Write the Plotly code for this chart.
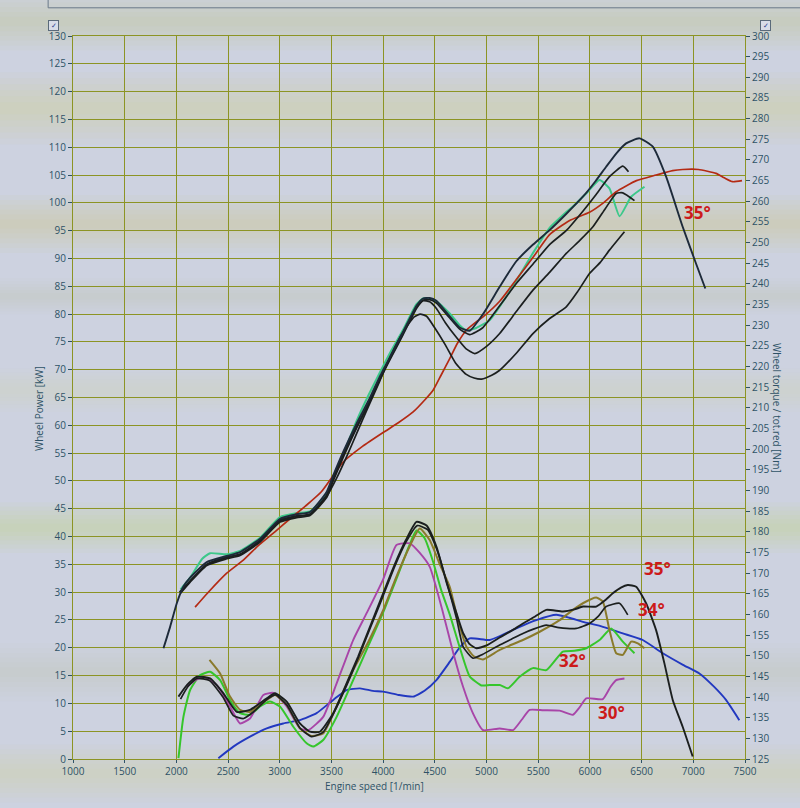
import plotly.graph_objects as go

# ---------------- data ----------------
# Wheel power curves [kW] (left axis)
p35_rpm = [1875, 1940, 2004, 2068, 2133, 2294, 2487, 2616, 2809, 3002, 3163, 3292, 3453, 3517, 3620, 3743, 3860, 3968, 4080, 4193, 4322, 4386, 4450, 4515, 4644, 4740, 4837, 4966, 5130, 5288, 5450, 5610, 5770, 5932, 6050, 6157, 6260, 6350, 6479, 6608, 6737, 6897, 7026, 7116]
p35_kw = [19.9, 23.8, 28.0, 31.0, 32.6, 35.4, 36.5, 37.2, 39.6, 43.2, 44.0, 44.4, 48.0, 51.0, 55.5, 60.3, 64.5, 68.8, 72.8, 76.8, 81.5, 82.8, 82.9, 82.4, 79.6, 77.6, 77.0, 80.0, 85.0, 89.5, 92.5, 95.1, 98.0, 101.1, 103.8, 106.5, 109.0, 110.7, 111.6, 110.1, 104.7, 95.7, 89.1, 84.6]

p34_rpm = [2030, 2133, 2294, 2487, 2616, 2809, 3002, 3163, 3292, 3453, 3517, 3620, 3743, 3860, 3968, 4080, 4193, 4322, 4386, 4450, 4515, 4644, 4740, 4837, 4960, 5127, 5288, 5450, 5610, 5770, 5932, 6060, 6189, 6318, 6373]
p34_kw = [30.0, 32.0, 35.0, 36.2, 36.8, 39.2, 42.8, 43.6, 44.0, 47.5, 50.5, 55.0, 59.8, 64.0, 68.4, 72.5, 76.5, 81.2, 82.5, 82.6, 82.0, 79.3, 77.3, 76.3, 77.5, 81.5, 85.5, 89.0, 92.5, 95.0, 98.5, 101.5, 104.7, 106.6, 105.6]

pol_rpm = [2040, 2133, 2250, 2326, 2487, 2616, 2809, 3002, 3163, 3292, 3453, 3517, 3620, 3743, 3860, 3968, 4080, 4193, 4322, 4386, 4450, 4515, 4644, 4740, 4805, 4900, 5030, 5150, 5288, 5450, 5610, 5740, 5868, 5980, 6093, 6189, 6287, 6399, 6528]
pol_kw = [30.5, 32.6, 36.0, 37.0, 36.8, 37.4, 39.8, 43.5, 44.2, 44.5, 47.6, 50.5, 55.0, 60.8, 65.5, 69.5, 73.5, 77.2, 81.8, 82.8, 82.8, 82.3, 80.1, 78.0, 77.1, 77.5, 78.9, 82.0, 86.0, 91.0, 95.5, 97.8, 99.9, 102.0, 104.1, 102.6, 97.6, 101.1, 102.9]

p32_rpm = [2040, 2133, 2294, 2487, 2616, 2809, 3002, 3163, 3292, 3453, 3517, 3620, 3743, 3860, 3968, 4080, 4193, 4322, 4386, 4450, 4515, 4600, 4700, 4800, 4886, 5000, 5127, 5290, 5449, 5610, 5771, 5900, 6029, 6150, 6254, 6318, 6431]
p32_kw = [29.8, 31.8, 34.8, 36.0, 36.6, 39.0, 42.6, 43.4, 43.8, 47.0, 50.0, 54.5, 59.5, 63.8, 68.2, 72.3, 76.3, 81.0, 82.4, 82.2, 81.0, 78.5, 76.0, 73.8, 72.9, 74.2, 76.5, 80.5, 84.3, 87.5, 90.9, 93.2, 95.7, 99.0, 101.7, 101.8, 100.4]

p30_rpm = [2050, 2133, 2294, 2487, 2616, 2809, 3002, 3163, 3292, 3453, 3550, 3650, 3743, 3860, 3968, 4080, 4193, 4300, 4360, 4420, 4500, 4600, 4700, 4800, 4880, 4953, 5050, 5127, 5290, 5449, 5610, 5771, 5880, 5996, 6100, 6189, 6334]
p30_kw = [30.2, 32.0, 35.0, 36.3, 36.8, 39.3, 43.0, 43.7, 44.0, 47.2, 50.5, 54.5, 58.5, 63.5, 68.0, 72.8, 76.8, 79.5, 80.0, 79.6, 77.5, 74.5, 71.2, 69.2, 68.5, 68.3, 69.0, 69.9, 73.0, 76.5, 79.2, 81.3, 84.0, 87.3, 89.3, 91.5, 94.8]

pred_rpm = [2181, 2300, 2487, 2650, 2800, 2950, 3100, 3250, 3400, 3614, 3800, 4000, 4150, 4290, 4400, 4483, 4560, 4644, 4720, 4805, 4900, 4966, 5127, 5288, 5450, 5610, 5800, 5996, 6130, 6254, 6450, 6640, 6800, 6897, 7050, 7219, 7300, 7380, 7471]
pred_kw = [27.3, 29.8, 33.4, 35.8, 38.5, 40.8, 43.2, 45.5, 48.0, 53.4, 56.2, 58.7, 60.5, 62.4, 64.5, 66.3, 69.0, 72.0, 74.8, 77.1, 78.6, 79.5, 82.3, 86.2, 90.2, 94.3, 96.8, 98.3, 100.0, 102.0, 104.0, 105.0, 105.8, 106.0, 106.0, 105.3, 104.5, 103.8, 104.0]

# Wheel torque curves [Nm] (right axis)
t35_rpm = [2020, 2101, 2198, 2326, 2455, 2584, 2712, 2874, 2954, 3067, 3195, 3292, 3388, 3517, 3646, 3758, 3880, 4000, 4110, 4220, 4322, 4420, 4515, 4610, 4709, 4773, 4837, 4901, 5000, 5127, 5240, 5352, 5470, 5578, 5738, 5850, 5932, 6061, 6150, 6221, 6300, 6366, 6447, 6543, 6640, 6720, 6801, 6897, 6994]
t35_nm = [140.1, 142.9, 144.9, 144.5, 140.9, 136.4, 136.9, 139.7, 140.9, 138.9, 133.6, 131.6, 131.6, 136.1, 143.3, 149.8, 157.5, 165.1, 172.0, 178.0, 182.4, 181.5, 176.4, 168.0, 160.3, 155.5, 152.8, 151.8, 152.5, 154.4, 156.0, 157.8, 159.5, 161.1, 160.7, 161.2, 161.9, 161.9, 163.5, 165.1, 166.5, 167.1, 166.7, 162.7, 156.2, 148.2, 139.3, 132.8, 125.6]

t34_rpm = [2040, 2110, 2200, 2320, 2450, 2551, 2650, 2750, 2880, 2960, 3070, 3195, 3308, 3420, 3530, 3650, 3760, 3880, 4000, 4110, 4220, 4330, 4430, 4530, 4630, 4710, 4773, 4869, 4960, 5127, 5240, 5352, 5460, 5578, 5700, 5868, 5996, 6080, 6157, 6286, 6366]
t34_nm = [139.5, 142.5, 144.5, 144.0, 140.0, 135.5, 134.8, 136.5, 139.5, 140.5, 138.0, 132.5, 130.4, 131.5, 136.5, 143.0, 149.5, 157.0, 164.5, 171.5, 177.5, 181.5, 180.5, 175.0, 166.5, 159.0, 152.2, 149.4, 150.3, 152.6, 154.0, 155.4, 156.5, 157.4, 156.8, 156.6, 157.8, 159.5, 161.9, 162.7, 159.9]

tol_rpm = [2320, 2423, 2519, 2616, 2712, 2874, 2954, 3067, 3195, 3308, 3420, 3550, 3710, 3850, 4000, 4110, 4220, 4354, 4450, 4550, 4644, 4720, 4805, 4880, 4966, 5127, 5352, 5514, 5707, 5820, 5932, 6061, 6125, 6189, 6254, 6318, 6399, 6463, 6527]
tol_nm = [149.0, 145.7, 140.1, 136.9, 136.4, 139.3, 140.5, 138.1, 132.4, 130.6, 131.2, 137.7, 146.5, 153.0, 161.0, 168.0, 174.5, 180.8, 178.0, 172.0, 166.7, 159.0, 152.2, 149.8, 149.1, 151.4, 153.8, 155.8, 158.6, 160.8, 162.7, 164.1, 163.1, 156.2, 150.6, 150.2, 153.4, 153.0, 151.8]

t32_rpm = [2020, 2068, 2133, 2230, 2326, 2423, 2519, 2616, 2712, 2809, 2906, 3002, 3131, 3260, 3324, 3420, 3550, 3710, 3850, 4000, 4150, 4250, 4322, 4400, 4480, 4560, 4644, 4741, 4837, 4950, 5030, 5128, 5207, 5320, 5449, 5578, 5738, 5850, 5964, 6093, 6206, 6318, 6431]
t32_nm = [125.2, 135.2, 141.7, 145.3, 146.1, 144.1, 139.3, 136.1, 135.7, 137.7, 138.9, 137.7, 132.8, 128.8, 128.0, 129.6, 135.2, 144.1, 152.0, 160.5, 170.0, 176.5, 180.3, 178.5, 173.0, 166.0, 160.0, 152.0, 145.0, 142.8, 142.9, 142.9, 142.1, 144.9, 147.0, 146.5, 151.0, 151.2, 151.8, 153.8, 156.6, 153.4, 150.6]

t30_rpm = [2101, 2180, 2261, 2391, 2519, 2616, 2712, 2841, 2938, 3067, 3195, 3276, 3420, 3550, 3710, 3840, 4000, 4129, 4258, 4350, 4451, 4580, 4680, 4773, 4870, 4966, 5127, 5256, 5340, 5417, 5550, 5707, 5835, 5900, 5964, 6125, 6200, 6254, 6334]
t30_nm = [142.5, 144.0, 144.9, 142.9, 137.7, 133.6, 134.8, 140.5, 141.0, 137.7, 132.4, 132.0, 135.2, 143.3, 153.8, 160.3, 168.5, 176.8, 177.2, 175.0, 171.5, 160.3, 150.5, 142.5, 136.0, 132.0, 132.4, 132.0, 134.5, 136.9, 136.8, 136.7, 135.7, 137.5, 139.7, 139.5, 142.5, 144.1, 144.5]

tbl_rpm = [2406, 2551, 2712, 2874, 3034, 3195, 3356, 3517, 3646, 3775, 3900, 4000, 4150, 4290, 4400, 4515, 4644, 4741, 4837, 5030, 5150, 5288, 5481, 5675, 5800, 5932, 6125, 6318, 6511, 6705, 6900, 7059, 7200, 7316, 7445]
tbl_nm = [125.2, 128.0, 130.4, 132.4, 133.6, 134.4, 136.1, 139.3, 141.7, 142.1, 141.5, 141.3, 140.5, 140.1, 141.5, 144.1, 148.5, 152.0, 154.2, 153.8, 155.0, 156.6, 158.6, 159.9, 159.2, 158.2, 157.0, 155.4, 153.8, 150.6, 147.8, 145.7, 142.5, 139.3, 134.4]

# angle labels: (text, rpm, kW-axis position)
angle_labels = [("35°", 7039, 98.2), ("35°", 6654, 34.3), ("34°", 6597, 26.8),
                ("32°", 5834, 17.8), ("30°", 6211, 8.45)]

x_ticks = list(range(1000, 7501, 500))
left_ticks = list(range(0, 131, 5))
right_ticks = list(range(125, 301, 5))

# ---------------- styling ----------------
BLACK = "#1b1f1f"
OLIVE = "#8a7a2c"
GREEN_T = "#35c62c"
GREEN_P = "#3cc88a"
MAGENTA = "#a845a8"
BLUE = "#2238c0"
RED_P = "#b42a14"
GRID = "#8c9424"
TXT = "#2e5266"
BG = "#cdd2e0"

fig = go.Figure()

def add(xs, ys, color, width, axis):
    fig.add_trace(go.Scatter(x=xs, y=ys, mode="lines", yaxis=axis,
                             line=dict(color=color, width=width, shape="spline", smoothing=0.5),
                             hoverinfo="skip", showlegend=False))

# power (left axis)
add(pol_rpm, pol_kw, GREEN_P, 2, "y")
add(pred_rpm, pred_kw, RED_P, 1.7, "y")
add(p30_rpm, p30_kw, BLACK, 1.7, "y")
add(p32_rpm, p32_kw, BLACK, 1.7, "y")
add(p34_rpm, p34_kw, BLACK, 1.7, "y")
add(p35_rpm, p35_kw, "#1d2a3a", 1.9, "y")

# torque (right axis)
add(tbl_rpm, tbl_nm, BLUE, 1.9, "y2")
add(t32_rpm, t32_nm, GREEN_T, 2, "y2")
add(t30_rpm, t30_nm, MAGENTA, 1.9, "y2")
add(tol_rpm, tol_nm, OLIVE, 2, "y2")
add(t34_rpm, t34_nm, BLACK, 1.7, "y2")
add(t35_rpm, t35_nm, BLACK, 1.9, "y2")

# soft moire-like bands of the photographed screen (centre in paper y, half width, strength)
bands = [(1.02, 0.04, 0.30), (0.90, 0.05, 0.38), (0.74, 0.04, 0.35), (0.64, 0.025, 0.18),
         (0.51, 0.03, 0.15), (0.32, 0.035, 0.40), (0.12, 0.04, 0.20), (-0.02, 0.04, 0.25)]
steps = 6
for yc, hw, op in bands:
    for k in range(steps):
        f = (k + 1) / steps
        fig.add_shape(type="rect", xref="paper", yref="paper", x0=-0.2, x1=1.2,
                      y0=yc - hw * f, y1=yc + hw * f,
                      fillcolor=f"rgba(200,204,120,{op / steps:.3f})", line=dict(width=0), layer="below")

# top panel border
fig.add_shape(type="line", xref="paper", yref="paper", x0=-0.037, x1=1.2, y0=1.039, y1=1.039,
              line=dict(color="#6a7a8a", width=1))
fig.add_shape(type="line", xref="paper", yref="paper", x0=-0.037, x1=-0.037, y0=1.039, y1=1.06,
              line=dict(color="#6a7a8a", width=1))

for txt, rx, ky in angle_labels:
    fig.add_annotation(x=rx, y=ky, xref="x", yref="y", text=f"<b>{txt}</b>", showarrow=False,
                       font=dict(color="#cc1a1a", size=17, family="Open Sans"))

# checkbox icons
for px in (-0.0367, 1.0387):
    fig.add_annotation(x=px, y=1.022, xref="paper", yref="paper", text="✓", showarrow=False,
                       font=dict(size=7, color="#2a3a8a"), bordercolor="#5a6a7a", borderwidth=1,
                       borderpad=0, width=9, height=9, bgcolor="#d8dde8")

# axis titles
fig.add_annotation(x=-0.063, y=0.485, xref="paper", yref="paper", text="Wheel Power [kW]",
                   textangle=-90, showarrow=False, font=dict(size=10, color=TXT, family="Open Sans"))
fig.add_annotation(x=1.06, y=0.485, xref="paper", yref="paper", text="Wheel torque / tot.red [Nm]",
                   textangle=90, showarrow=False, font=dict(size=10, color=TXT, family="Open Sans"))
fig.add_annotation(x=3920, y=-0.05, xref="x", yref="paper", text="Engine speed [1/min]",
                   showarrow=False, font=dict(size=10, color=TXT, family="Open Sans"))

fig.update_layout(
    width=800, height=808,
    margin=dict(l=73, r=55, t=36, b=49, autoexpand=False),
    paper_bgcolor=BG, plot_bgcolor=BG,
    font=dict(family="Open Sans", size=10, color=TXT),
    xaxis=dict(range=[1000, 7500], tickvals=x_ticks, showgrid=True, gridcolor=GRID, gridwidth=1,
               showline=True, linecolor=GRID, mirror=True, ticks="outside", ticklen=3,
               tickcolor=TXT, zeroline=False, tickfont=dict(size=10, color=TXT), automargin=False),
    yaxis=dict(range=[0, 130], tickvals=left_ticks, showgrid=True, gridcolor=GRID, gridwidth=1,
               showline=True, linecolor=GRID, ticks="outside", ticklen=4, tickcolor=TXT,
               zeroline=False, tickfont=dict(size=10, color=TXT), automargin=False),
    yaxis2=dict(range=[125, 300], tickvals=right_ticks, overlaying="y", side="right",
                showgrid=False, showline=True, linecolor=GRID, ticks="outside", ticklen=4,
                tickcolor=TXT, zeroline=False, tickfont=dict(size=10, color=TXT), automargin=False),
)

fig.write_html("out.html", config={"displayModeBar": False},
               post_script="document.body.style.margin='0px';document.body.style.background='#cdd2e0';")
